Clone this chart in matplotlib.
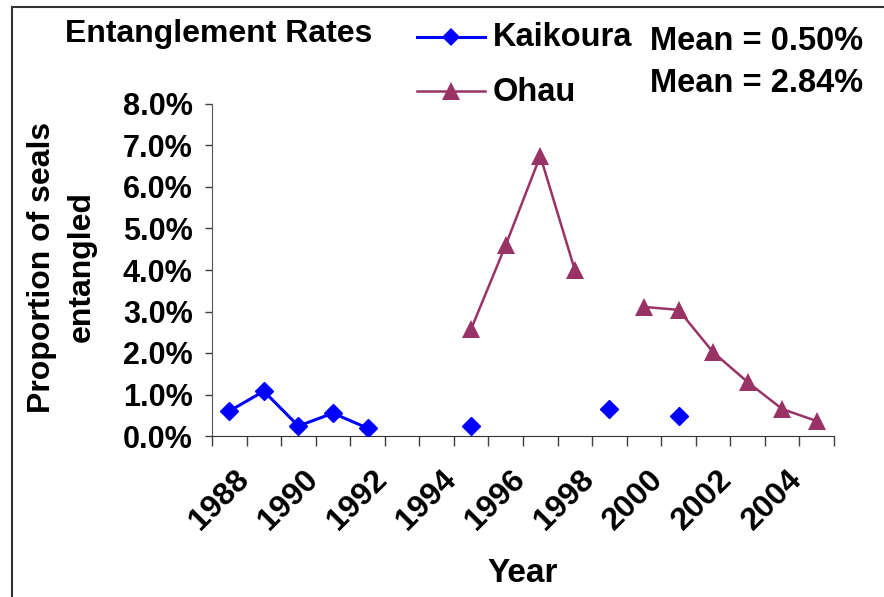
import numpy as np
import matplotlib
matplotlib.use('Agg')
import matplotlib.pyplot as plt
import matplotlib.transforms as mtransforms
from matplotlib.lines import Line2D
from matplotlib.ticker import PercentFormatter, FixedLocator

plt.rcParams['font.family'] = ['Liberation Sans', 'DejaVu Sans']
plt.rcParams['font.weight'] = 'bold'

# Entanglement rates per year (% of seals), NaN = no survey that year
years = list(range(1988, 2006))
kaikoura = [0.60, 1.08, 0.24, 0.55, 0.19, np.nan, np.nan, 0.24, np.nan, np.nan,
            np.nan, 0.65, np.nan, 0.48, np.nan, np.nan, np.nan, np.nan]
ohau = [np.nan, np.nan, np.nan, np.nan, np.nan, np.nan, np.nan, 2.58, 4.60, 6.75,
        4.00, np.nan, 3.11, 3.04, 2.02, 1.30, 0.65, 0.36]
year_labels = [str(y) for y in years[::2]]  # 1988 ... 2004

kai_color = '#0000FF'
ohau_color = '#993366'

fig = plt.figure(figsize=(8.84, 5.97), dpi=100)
ax = fig.add_axes([212 / 884, 1 - 436 / 597, 622 / 884, 332 / 597])

x = np.arange(len(years))
ax.plot(x, kaikoura, color=kai_color, lw=2.2, marker='D', ms=9, mec=kai_color, zorder=3)
ax.plot(x, ohau, color=ohau_color, lw=1.8, marker='^', ms=12.5, mec=ohau_color, mew=0, zorder=3)

ax.set_xlim(-0.5, len(years) - 0.5)
ax.set_ylim(0, 8)
ax.yaxis.set_major_locator(FixedLocator(range(0, 9)))
ax.yaxis.set_major_formatter(PercentFormatter(xmax=100, decimals=1))

# labels sit at category centres, tick marks at category boundaries
ax.set_xticks(x[::2])
ax.set_xticklabels(year_labels, rotation=45, ha='right', va='center',
                   rotation_mode='anchor', fontsize=23, fontweight='bold')
ax.set_xticks(np.arange(-0.5, len(years)), minor=True)
ax.tick_params(axis='x', which='major', length=0, pad=28)
ax.tick_params(axis='x', which='minor', length=7, width=1, color='#404040', direction='out')
ax.tick_params(axis='y', length=5, width=1, color='#404040', pad=9, labelsize=22)
for lab in ax.get_yticklabels():
    lab.set_fontweight('bold')

# nudge the rotated year labels to the right
shift = mtransforms.ScaledTranslation(15 / 100, 0, fig.dpi_scale_trans)
for lab in ax.get_xticklabels():
    lab.set_transform(lab.get_transform() + shift)

for side in ['top', 'right']:
    ax.spines[side].set_visible(False)
ax.spines['left'].set_color('#555555')
ax.spines['bottom'].set_color('#333333')

ax.set_xlabel('Year', fontsize=24, fontweight='bold', labelpad=16)
fig.text(62 / 884, 1 - 267 / 597, 'Proportion of seals\nentangled', rotation=90,
         ha='center', va='center', multialignment='center', fontsize=23, fontweight='bold',
         linespacing=1.42)

fig.text(65 / 884, 1 - 34 / 597, 'Entanglement Rates', ha='left', va='center',
         fontsize=23, fontweight='bold')

# legend rows drawn by hand next to the mean values
legend_rows = [('Kaikoura', kai_color, 'D', 9, 2.2, 37),
               ('Ohau', ohau_color, '^', 12.5, 1.8, 91)]
for name, col, mk, ms, lw, ypix in legend_rows:
    yf = 1 - ypix / 597
    fig.add_artist(Line2D([417 / 884, 485 / 884], [yf, yf], color=col, lw=lw,
                          transform=fig.transFigure))
    fig.add_artist(Line2D([451 / 884], [yf], color=col, marker=mk, ms=ms, mew=0,
                          transform=fig.transFigure))
    fig.text(493 / 884, yf - 1 / 597, name, ha='left', va='center', fontsize=23.5,
             fontweight='bold')

fig.text(650 / 884, 1 - 42 / 597, f'Mean = {np.nanmean(kaikoura):.2f}%', ha='left',
         va='center', fontsize=23.5, fontweight='bold')
fig.text(650 / 884, 1 - 83 / 597, f'Mean = {np.nanmean(ohau):.2f}%', ha='left',
         va='center', fontsize=23.5, fontweight='bold')

# outer chart border (top and left edges)
fig.add_artist(Line2D([12 / 884, 12 / 884], [0, 1 - 7 / 597], color='#333333', lw=1.5,
                      transform=fig.transFigure))
fig.add_artist(Line2D([12 / 884, 1], [1 - 7 / 597, 1 - 7 / 597], color='#333333', lw=1.5,
                      transform=fig.transFigure))

fig.savefig('out.png', dpi=100)
